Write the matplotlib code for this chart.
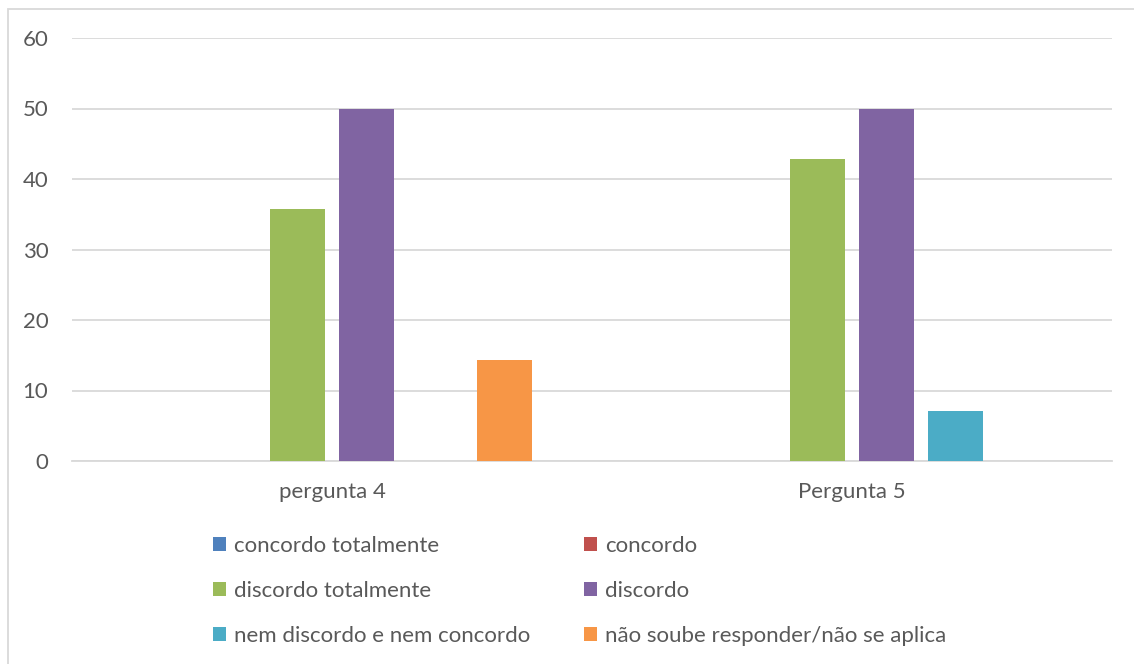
import numpy as np
import matplotlib.pyplot as plt
from matplotlib.patches import Rectangle

plt.rcParams['font.family'] = ['Lato', 'DejaVu Sans']

perguntas = ['pergunta 4', 'Pergunta 5']
respostas = ['concordo totalmente', 'concordo', 'discordo totalmente', 'discordo',
             'nem discordo e nem concordo', 'não soube responder/não se aplica']
cores = ['#4F81BD', '#C0504D', '#9BBB59', '#8064A2', '#4BACC6', '#F79646']
valores = [
    [0, 0],          # concordo totalmente
    [0, 0],          # concordo
    [35.71, 42.86],  # discordo totalmente
    [50.0, 50.0],    # discordo
    [0, 7.14],       # nem discordo e nem concordo
    [14.29, 0],      # não soube responder/não se aplica
]
yticks = [0, 10, 20, 30, 40, 50, 60]

cinza = '#595959'
fs = 16
fig = plt.figure(figsize=(11.34, 6.64), dpi=100)
ax = fig.add_axes([72/1134, 1-461/664, (1112-72)/1134, (461-38)/664])

# moldura do gráfico
fig.patches.append(Rectangle((7.5/1134, -0.1), 1.2, 1 - 9/664 + 0.1,
                             transform=fig.transFigure, fill=False,
                             edgecolor='#d9d9d9', lw=1.3))

x = np.arange(len(perguntas))
passo = 0.1327
larg = 0.1058
barras = []
for j, (r, c) in enumerate(zip(respostas, cores)):
    b = ax.bar(x + (j - 2.5)*passo, valores[j], width=larg, color=c, label=r, zorder=3)
    barras.append(b)

ax.set_xlim(-0.5, 1.5)
ax.set_ylim(0, 60)
ax.set_yticks(yticks)
ax.set_xticks(x)
ax.set_xticklabels(perguntas)
ax.grid(axis='y', color='#d9d9d9', lw=1.3, zorder=0)
for s in ['top', 'right', 'left']:
    ax.spines[s].set_visible(False)
ax.spines['bottom'].set_color('#d9d9d9')
ax.spines['bottom'].set_linewidth(1.3)
ax.tick_params(axis='y', length=0, pad=17, labelsize=fs, labelcolor=cinza)
ax.tick_params(axis='x', length=0, pad=15, labelsize=fs, labelcolor=cinza)

ordem = [0, 2, 4, 1, 3, 5]
leg = fig.legend([barras[i] for i in ordem], [respostas[i] for i in ordem],
                 ncol=2, loc='upper left', bbox_to_anchor=(213/1134, 1-536/664),
                 frameon=False, fontsize=fs, labelcolor=cinza,
                 handlelength=0.6, handleheight=0.6, handletextpad=0.36,
                 columnspacing=2.4, labelspacing=1.13, borderaxespad=0, borderpad=0)

fig.savefig('out.png', dpi=100)
